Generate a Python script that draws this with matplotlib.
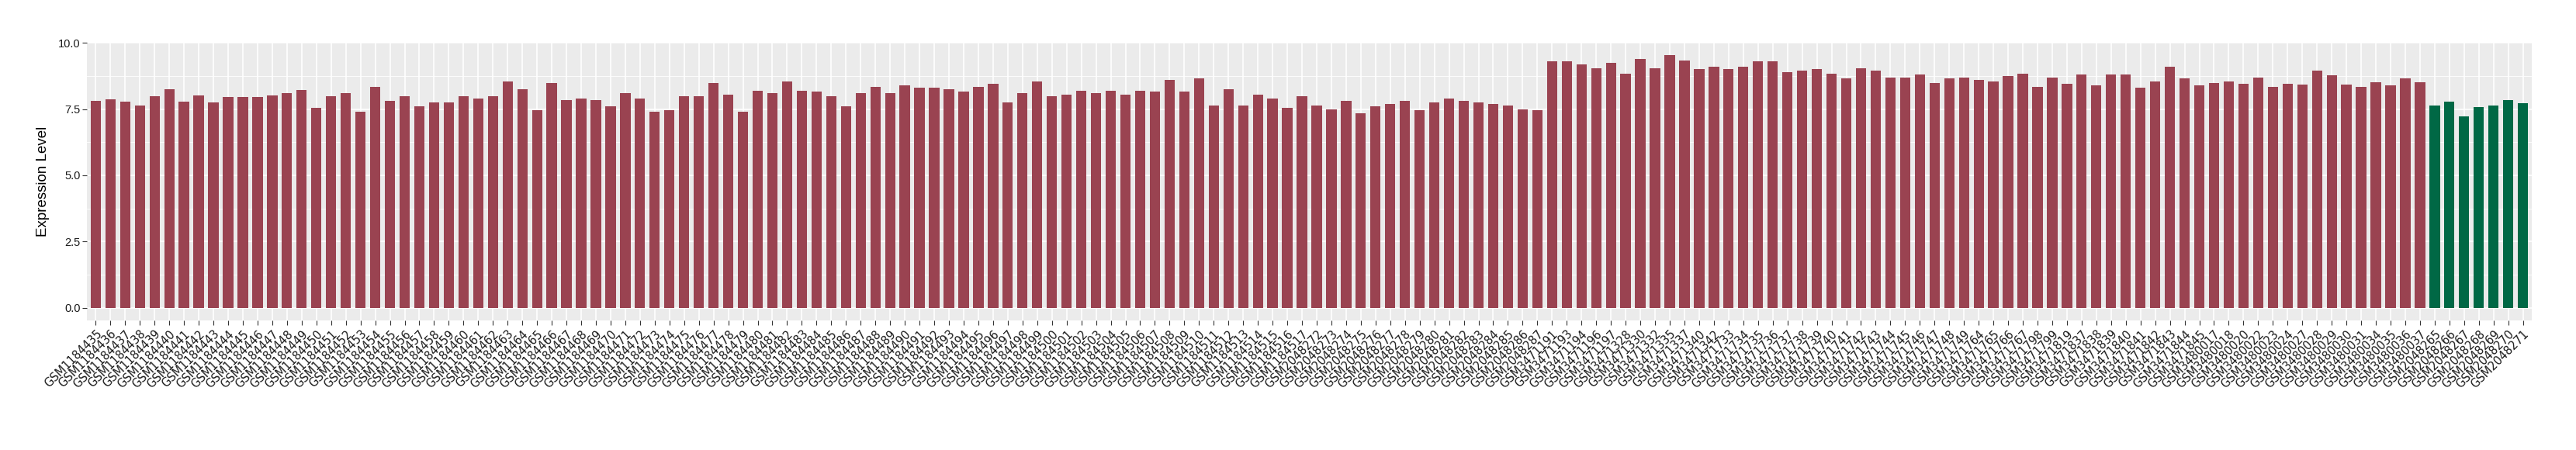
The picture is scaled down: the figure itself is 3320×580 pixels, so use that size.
import numpy as np
import matplotlib
matplotlib.use("Agg")
import matplotlib.pyplot as plt

# Sample ids per series (GSM numbers)
ids_a = list(range(1184435, 1184518))
ids_b = list(range(2048272, 2048288))
ids_c = [3471191, 3471193, 3471194, 3471196, 3471197, 3471328, 3471330, 3471332,
         3471335, 3471337, 3471340, 3471342] + list(range(3471733, 3471750)) + \
        [3471764, 3471765, 3471766, 3471767, 3471798, 3471799, 3471819, 3471837,
         3471838, 3471839, 3471840, 3471841, 3471842, 3471843, 3471844, 3471845]
ids_d = [3480017, 3480018, 3480020, 3480022, 3480023, 3480024, 3480027, 3480028,
         3480029, 3480030, 3480031, 3480034, 3480035, 3480036, 3480037]
ids_ctrl = list(range(2048265, 2048272))

# Expression values
vals_a = [7.81, 7.86, 7.79, 7.65, 7.98, 8.25, 7.79, 8.03, 7.76, 7.95, 7.95, 7.95, 8.03, 8.12, 8.22,
          7.55, 8.0, 8.1, 7.4, 8.35, 7.8, 8.0, 7.6, 7.75, 7.75, 8.0, 7.9, 8.0, 8.55, 8.25,
          7.45, 8.5, 7.85, 7.9, 7.85, 7.6, 8.1, 7.9, 7.4, 7.45, 8.0, 8.0, 8.5, 8.05, 7.4,
          8.2, 8.1, 8.55, 8.2, 8.15, 8.0, 7.6, 8.1, 8.35, 8.1, 8.4, 8.3, 8.3, 8.25, 8.15,
          8.35, 8.45, 7.75, 8.1, 8.55, 8.0, 8.05, 8.2, 8.1, 8.2, 8.05, 8.2, 8.15, 8.6, 8.15,
          8.65, 7.65, 8.25, 7.65, 8.05, 7.9, 7.55, 8.0]
vals_b = [7.65, 7.5, 7.8, 7.35, 7.6, 7.7, 7.8, 7.45, 7.75, 7.9, 7.8, 7.75, 7.7, 7.65, 7.5, 7.45]
vals_c = [9.3, 9.3, 9.2, 9.05, 9.25, 8.85, 9.4, 9.05, 9.53, 9.35, 9.0, 9.1, 9.0, 9.1, 9.3,
          9.3, 8.9, 8.95, 9.0, 8.85, 8.65, 9.05, 8.95, 8.7, 8.7, 8.8, 8.5, 8.65, 8.7, 8.6,
          8.55, 8.75, 8.85, 8.35, 8.7, 8.45, 8.8, 8.4, 8.8, 8.8, 8.3, 8.55, 9.1, 8.65, 8.4]
vals_d = [8.5, 8.55, 8.45, 8.7, 8.35, 8.45, 8.42, 8.96, 8.78, 8.42, 8.34, 8.51, 8.40, 8.67, 8.51]
vals_ctrl = [7.65, 7.79, 7.23, 7.59, 7.65, 7.84, 7.73]

case_color = "#9A4351"
ctrl_color = "#006845"

labels = ["GSM%d" % i for i in ids_a + ids_b + ids_c + ids_d + ids_ctrl]
values = vals_a + vals_b + vals_c + vals_d + vals_ctrl
colors = [case_color] * (len(values) - len(vals_ctrl)) + [ctrl_color] * len(vals_ctrl)
x = np.arange(len(values))

W, H, DPI = 3320, 580, 100
fig = plt.figure(figsize=(W / DPI, H / DPI), dpi=DPI)
left, right, top, bottom = 112, 3263, 55, 413
ax = fig.add_axes([left / W, 1 - bottom / H, (right - left) / W, (bottom - top) / H])

ax.set_facecolor("#EBEBEB")
for y in [1.25, 3.75, 6.25, 8.75]:
    ax.axhline(y, color="white", lw=0.6, zorder=0)
for y in [0, 2.5, 5, 7.5, 10]:
    ax.axhline(y, color="white", lw=1.2, zorder=0)
for xi in x:
    ax.axvline(xi, color="white", lw=1.2, zorder=0)

ax.bar(x, values, width=0.7, color=colors, zorder=2)

ax.set_xlim(-0.6, len(values) - 0.4)
ax.set_ylim(-0.48, 10.01)
for s in ax.spines.values():
    s.set_visible(False)

ax.set_yticks([0, 2.5, 5, 7.5, 10])
ax.set_yticklabels(["0.0", "2.5", "5.0", "7.5", "10.0"], family="Liberation Sans",
                   fontsize=10.5, color="#1a1a1a")
ax.set_xticks(x)
ax.set_xticklabels(labels, rotation=45, ha="right", va="top", rotation_mode="anchor",
                   family="DejaVu Sans", fontsize=10.5, color="#1a1a1a")
ax.tick_params(axis="both", length=4, width=0.8, color="#333333", pad=2)
ax.tick_params(axis="x", pad=3)

ax.set_ylabel("Expression Level", family="Liberation Sans", fontsize=13.5, labelpad=8)

fig.savefig("out.png", dpi=DPI)
